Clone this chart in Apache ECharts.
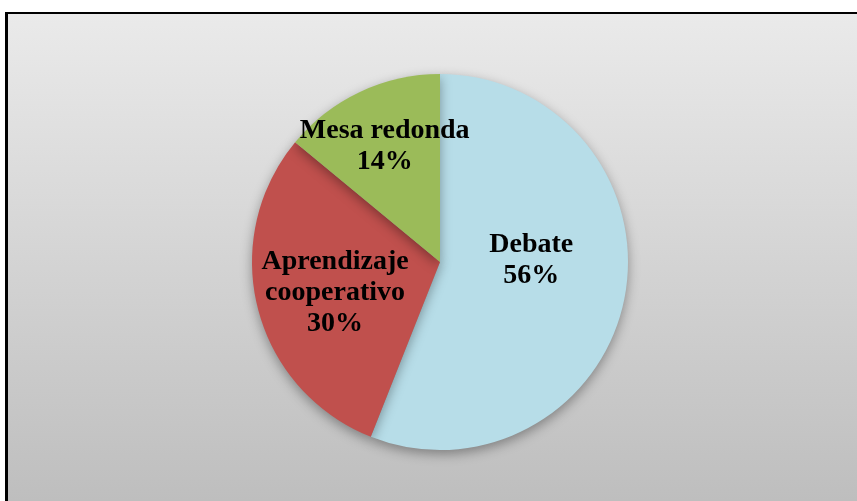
<!DOCTYPE html>
<html>
<head>
<meta charset="utf-8">
<script src="https://cdn.jsdelivr.net/npm/echarts@6/dist/echarts.min.js"></script>
<style>
    html, body { margin: 0; padding: 0; background: #ffffff; }
    #frame {
        position: absolute;
        left: 5px;
        top: 12px;
        width: 852px;
        height: 489px;
        border-left: 3px solid #000;
        border-top: 2px solid #000;
        box-sizing: border-box;
    }
    #main { width: 100%; height: 100%; }
</style>
</head>
<body>
<div id="frame"><div id="main"></div></div>
<script>
var categories = ['Debate', 'Aprendizaje\ncooperativo', 'Mesa redonda'];
var values = [56, 30, 14];
var colors = ['#B7DDE8', '#C0504D', '#9BBB59'];
var labelOffsets = [[-4, -20], [-11, 7], [-14, -28]];

var chart = echarts.init(document.getElementById('main'));

var data = categories.map(function (name, i) {
    return {
        name: name,
        value: values[i],
        itemStyle: { color: colors[i] },
        label: { offset: labelOffsets[i] }
    };
});

var option = {
    backgroundColor: {
        type: 'linear', x: 0, y: 0, x2: 0, y2: 1,
        colorStops: [
            { offset: 0, color: '#EAEAEA' },
            { offset: 1, color: '#BEBEBE' }
        ]
    },
    animation: false,
    series: [{
        type: 'pie',
        center: [432, 248],
        radius: 188,
        startAngle: 90,
        clockwise: true,
        avoidLabelOverlap: false,
        itemStyle: {
            borderWidth: 0,
            shadowBlur: 12,
            shadowOffsetY: 4,
            shadowColor: 'rgba(0,0,0,0.35)'
        },
        label: {
            show: true,
            position: 'inside',
            formatter: function (p) { return p.name + '\n' + p.value + '%'; },
            fontFamily: '"Liberation Serif", serif',
            fontWeight: 'bold',
            fontSize: 28,
            lineHeight: 31,
            color: '#000',
            align: 'center'
        },
        labelLine: { show: false },
        data: data
    }]
};

chart.setOption(option);
</script>
</body>
</html>
